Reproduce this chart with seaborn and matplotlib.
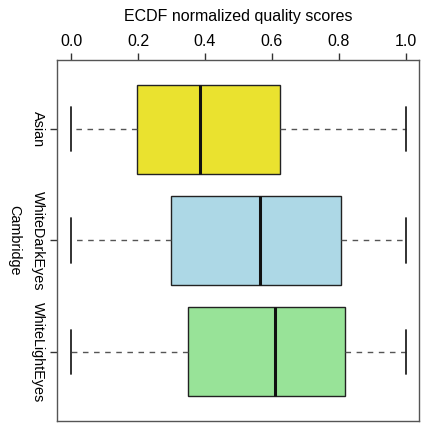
import numpy as np
import pandas as pd
import matplotlib
matplotlib.use("Agg")
import matplotlib.pyplot as plt
import seaborn as sns

groups = ["Asian", "WhiteDarkEyes", "WhiteLightEyes"]
mins = [0.0, 0.0, 0.0]
q1s = [0.197, 0.299, 0.349]
medians = [0.385, 0.564, 0.609]
q3s = [0.624, 0.806, 0.818]
maxs = [1.0, 1.0, 1.0]
colors = ["#EAE22F", "#ADD8E6", "#98E398"]
xticks = [0.0, 0.2, 0.4, 0.6, 0.8, 1.0]
xlabels = ["0.0", "0.2", "0.4", "0.6", "0.8", "1.0"]

rows = []
for g, a, b, c, d, e in zip(groups, mins, q1s, medians, q3s, maxs):
    for v in (a, b, c, d, e):
        rows.append({"group": g, "score": v})
df = pd.DataFrame(rows)

sns.set_style("white")
plt.rcParams["font.family"] = ["Liberation Sans", "DejaVu Sans"]
plt.rcParams["text.color"] = "black"
plt.rcParams["axes.labelcolor"] = "black"
plt.rcParams["xtick.color"] = "black"
plt.rcParams["ytick.color"] = "black"

fig = plt.figure(figsize=(4.22, 4.23), dpi=100)
ax = fig.add_axes([57/422, 2/423, (419-57)/422, (421-60)/423])

sns.boxplot(data=df, x="score", y="group", hue="group", order=groups,
            palette=dict(zip(groups, colors)), legend=False, orient="h",
            whis=(0, 100), width=0.8, ax=ax, saturation=1,
            boxprops=dict(edgecolor="#222222", linewidth=1),
            whiskerprops=dict(color="#555555", linestyle=(0, (4, 4)), linewidth=1),
            capprops=dict(color="#222222", linewidth=1.3),
            medianprops=dict(color="#111111", linewidth=2.2),
            showfliers=False)

# adjust cap widths to half box width
for line in ax.lines:
    xd = line.get_xdata()
    yd = line.get_ydata()
    if len(xd) == 2 and xd[0] == xd[1] and xd[0] in (0.0, 1.0):
        yc = (yd[0] + yd[1]) / 2
        line.set_ydata([yc - 0.2, yc + 0.2])

fs = 11.5
ax.set_xlim(-0.042, 1.039)
ax.set_ylim(2.62, -0.62)
ax.xaxis.set_ticks_position("top")
ax.xaxis.set_label_position("top")
ax.set_xticks(xticks)
ax.set_xticklabels(xlabels, fontsize=fs)
ax.set_xlabel("ECDF normalized quality scores", fontsize=fs, labelpad=9)
ax.set_yticks(range(len(groups)))
ax.set_yticklabels(groups, fontsize=10.4, rotation=-90, va="center")
ax.set_ylabel("Cambridge", fontsize=10.4, rotation=-90, labelpad=12, va="center")
ax.tick_params(axis="x", length=5, width=1, color="#333333", pad=3, top=True, bottom=False)
ax.tick_params(axis="y", length=5, width=1, color="#333333", pad=4, left=True)
for s in ax.spines.values():
    s.set_color("#555555")
    s.set_linewidth(1)
    s.set_visible(True)

fig.savefig("out.png", dpi=100)
